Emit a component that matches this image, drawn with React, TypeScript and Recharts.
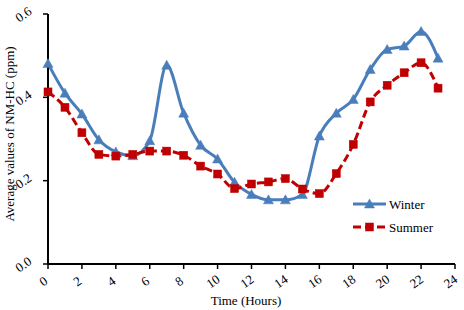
import React from 'react';
import { LineChart, Line, XAxis, YAxis, Label } from 'recharts';

const hours = [0, 1, 2, 3, 4, 5, 6, 7, 8, 9, 10, 11, 12, 13, 14, 15, 16, 17, 18, 19, 20, 21, 22, 23];
const winter = [0.481, 0.41, 0.36, 0.298, 0.269, 0.26, 0.296, 0.477, 0.362, 0.285, 0.252, 0.196, 0.167, 0.154, 0.154, 0.167, 0.307, 0.362, 0.395, 0.467, 0.515, 0.523, 0.558, 0.494];
const summer = [0.413, 0.376, 0.315, 0.263, 0.259, 0.263, 0.271, 0.271, 0.261, 0.235, 0.216, 0.181, 0.192, 0.197, 0.205, 0.18, 0.169, 0.217, 0.287, 0.389, 0.429, 0.459, 0.483, 0.422];
const xTicks = [0, 2, 4, 6, 8, 10, 12, 14, 16, 18, 20, 22, 24];
const yTicks = [0, 0.2, 0.4, 0.6];
const seriesNames = ['Winter', 'Summer'];

const data = hours.map((h, i) => ({ hour: h, winter: winter[i], summer: summer[i] }));

const BLUE = '#4A7EBB';
const RED = '#C00000';
const FONT = '"Liberation Serif", "Times New Roman", serif';

const Triangle = ({ cx, cy, fill }: any) => (
  <path d={`M${cx},${cy - 5} L${cx + 5},${cy + 4} L${cx - 5},${cy + 4} Z`} fill={fill} stroke={fill} strokeWidth={0.5} />
);
const Square = ({ cx, cy, fill }: any) => (
  <rect x={cx - 4} y={cy - 4} width={8} height={8} fill={fill} stroke={fill} strokeWidth={0.5} />
);

const XTick = (props: any) => {
  const { x, y, payload } = props;
  const tx = x - 2;
  const ty = y + 14;
  return (
    <text x={tx} y={ty} textAnchor="middle" fontFamily={FONT} fontSize={13} fill="#000" transform={`rotate(-35 ${tx} ${ty})`}>
      {payload.value}
    </text>
  );
};

const YTick = (props: any) => {
  const { y, payload } = props;
  const tx = 26;
  const ty = y + 4;
  return (
    <text x={tx} y={ty} textAnchor="middle" fontFamily={FONT} fontSize={13} fill="#000" transform={`rotate(-35 ${tx} ${ty})`}>
      {Number(payload.value).toFixed(1)}
    </text>
  );
};

const LegendBox = () => (
  <svg width={110} height={50} style={{ position: 'absolute', left: 350, top: 192 }}>
    <line x1={3} y1={12} x2={36} y2={12} stroke={BLUE} strokeWidth={3} />
    <Triangle cx={19.5} cy={12} fill={BLUE} />
    <text x={39} y={16.5} fontFamily={FONT} fontSize={13} fill="#000">{seriesNames[0]}</text>
    <line x1={3} y1={35} x2={36} y2={35} stroke={RED} strokeWidth={3} strokeDasharray="8 4" />
    <Square cx={19.5} cy={35} fill={RED} />
    <text x={39} y={39.5} fontFamily={FONT} fontSize={13} fill="#000">{seriesNames[1]}</text>
  </svg>
);

export default function App() {
  return (
    <div style={{ position: 'absolute', left: 0, top: 0, width: 464, height: 310, background: '#fff' }}>
      <LineChart width={464} height={310} data={data} margin={{ top: 14, right: 9, bottom: 0, left: 0 }}>
        <XAxis
          dataKey="hour"
          type="number"
          domain={[0, 24]}
          ticks={xTicks}
          interval={0}
          height={46}
          tick={<XTick />}
          tickSize={5}
          axisLine={{ stroke: '#000', strokeWidth: 2 }}
          tickLine={{ stroke: '#000', strokeWidth: 1.5 }}
        >
          <Label
            value="Time (Hours)"
            content={() => (
              <text x={246} y={305} textAnchor="middle" fontFamily={FONT} fontSize={13} fill="#000">
                Time (Hours)
              </text>
            )}
          />
        </XAxis>
        <YAxis
          type="number"
          domain={[0, 0.6]}
          ticks={yTicks}
          interval={0}
          width={48}
          tick={<YTick />}
          tickSize={5}
          axisLine={{ stroke: '#000', strokeWidth: 2 }}
          tickLine={{ stroke: '#000', strokeWidth: 1.5 }}
        >
          <Label
            value="Average values of NM-HC  (ppm)"
            content={() => (
              <text x={11} y={134} textAnchor="middle" fontFamily={FONT} fontSize={13} fill="#000" transform="rotate(-90 11 134)" dominantBaseline="middle">
                Average values of NM-HC  (ppm)
              </text>
            )}
          />
        </YAxis>
        <Line
          name={seriesNames[0]}
          dataKey="winter"
          type="monotone"
          stroke={BLUE}
          strokeWidth={3}
          dot={(p: any) => <Triangle key={`w${p.index}`} cx={p.cx} cy={p.cy} fill={BLUE} />}
          isAnimationActive={false}
        />
        <Line
          name={seriesNames[1]}
          dataKey="summer"
          type="monotone"
          stroke={RED}
          strokeWidth={3}
          strokeDasharray="8 4"
          dot={(p: any) => <Square key={`s${p.index}`} cx={p.cx} cy={p.cy} fill={RED} />}
          isAnimationActive={false}
        />
      </LineChart>
      <LegendBox />
    </div>
  );
}
